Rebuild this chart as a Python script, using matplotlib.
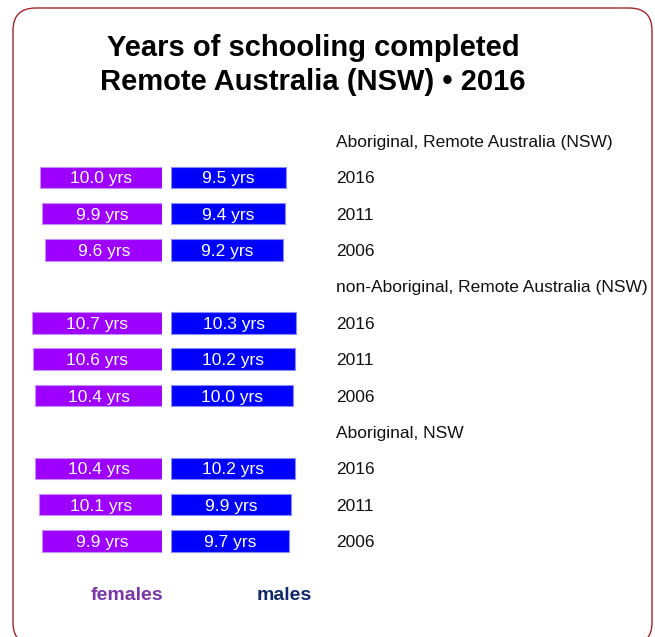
import matplotlib.pyplot as plt
from matplotlib.patches import FancyBboxPatch

# years of schooling, by group and census year
groups = ["Aboriginal, Remote Australia (NSW)",
          "non-Aboriginal, Remote Australia (NSW)",
          "Aboriginal, NSW"]
years = ["2016", "2011", "2006"]
females = [[10.0, 9.9, 9.6],
           [10.7, 10.6, 10.4],
           [10.4, 10.1, 9.9]]
males = [[9.5, 9.4, 9.2],
         [10.3, 10.2, 10.0],
         [10.2, 9.9, 9.7]]

FEM_COL = "#9d00ff"
MAL_COL = "#0000ff"
V0 = 0.35  # value at which the bars start

W, H = 655, 637
fig = plt.figure(figsize=(W / 100, H / 100), dpi=100)
fig.patch.set_facecolor("white")

# rounded frame
frame = FancyBboxPatch((13 / W, -8 / H), 639 / W, 637 / H,
                       boxstyle="round,pad=0,rounding_size=0.035",
                       transform=fig.transFigure, fill=False,
                       edgecolor="#a3262b", linewidth=1.0)
fig.patches.append(frame)

fig.text(313 / W, 1 - 65 / H,
         "Years of schooling completed\nRemote Australia (NSW) \u2022 2016",
         ha="center", va="center", fontsize=21, fontweight="bold",
         family="Liberation Sans", linespacing=1.25)

# rows: a header row then one per year, for each group
rows_y = []
row_text = []
r = 0
for g in range(len(groups)):
    row_text.append((r, groups[g]))
    r += 1
    for k in range(len(years)):
        rows_y.append((r, g, k))
        row_text.append((r, years[k]))
        r += 1
nrows = r

ybot = (H - (141 + 36.36 * (nrows - 0.5))) / H
ytop = (H - (141 - 36.36 * 0.5)) / H
px = 12.6  # pixels per year

axf = fig.add_axes([20 / W, ybot, 142 / W, ytop - ybot])
axm = fig.add_axes([171 / W, ybot, 149 / W, ytop - ybot])
axl = fig.add_axes([336 / W, ybot, 300 / W, ytop - ybot])

axf.set_xlim(V0 + 142 / px, V0)
axm.set_xlim(V0, V0 + 149 / px)
axl.set_xlim(0, 1)
for ax in (axf, axm, axl):
    ax.set_ylim(nrows - 0.5, -0.5)
    ax.axis("off")

for row, g, k in rows_y:
    fv = females[g][k]
    mv = males[g][k]
    axf.barh(row, fv - V0, left=V0, height=0.59, color=FEM_COL,
             edgecolor="#c58cff", linewidth=0.8)
    axm.barh(row, mv - V0, left=V0, height=0.59, color=MAL_COL,
             edgecolor="#8a8aff", linewidth=0.8)
    axf.text((fv + V0) / 2, row, f"{fv:.1f} yrs", ha="center",
             va="center_baseline", color="white", fontsize=12.5,
             family="Liberation Sans")
    axm.text((mv + V0) / 2, row, f"{mv:.1f} yrs", ha="center",
             va="center_baseline", color="white", fontsize=12.5,
             family="Liberation Sans")

for row, label in row_text:
    axl.text(0, row, label, ha="left", va="center_baseline",
             fontsize=12.5, family="Liberation Sans", color="#111111",
             clip_on=False)

fig.text(127 / W, 1 - 596 / H, "females", ha="center", va="center",
         fontsize=14, fontweight="bold", family="Liberation Sans",
         color="#7a35a8")
fig.text(284 / W, 1 - 596 / H, "males", ha="center", va="center",
         fontsize=14, fontweight="bold", family="Liberation Sans",
         color="#112a6b")

fig.savefig("out.png", dpi=100)
